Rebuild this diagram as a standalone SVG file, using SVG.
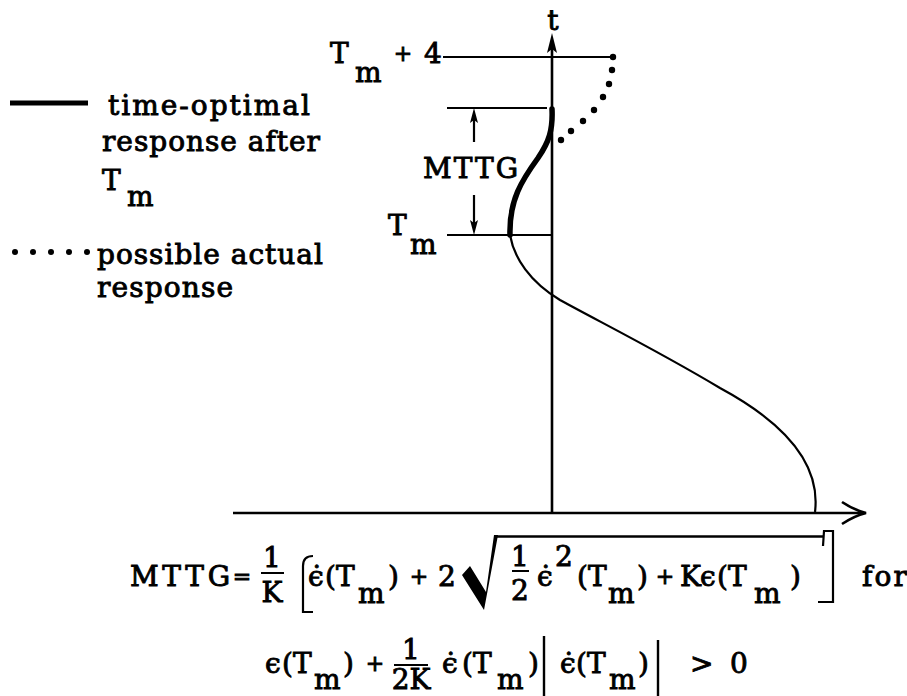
<svg xmlns="http://www.w3.org/2000/svg" width="907" height="696" viewBox="0 0 907 696">
<style>
text{font-family:"DejaVu Serif","Liberation Serif",serif;font-size:28px;fill:#000;stroke:#000;stroke-width:0.9}
.op{font-size:22px;text-anchor:middle}
.ln{stroke:#000;stroke-width:2.2;fill:none}
.ax{stroke:#000;stroke-width:2.6;fill:none}
.dot{fill:#000}
.mid{text-anchor:middle}
</style>
<rect width="907" height="696" fill="#fff"/>
<g id="legend">
<line x1="10" y1="103" x2="88" y2="103" stroke="#000" stroke-width="5"/>
<text x="108" y="115" textLength="202" lengthAdjust="spacing">time-optimal</text>
<text x="102" y="151" textLength="218" lengthAdjust="spacing">response after</text>
<text x="102" y="190">T</text><text x="127" y="206">m</text>
<circle class="dot" cx="15" cy="252" r="3"/><circle class="dot" cx="33" cy="252" r="3"/><circle class="dot" cx="51" cy="252" r="3"/><circle class="dot" cx="69" cy="252" r="3"/><circle class="dot" cx="87" cy="252" r="3"/>
<text x="97" y="264" textLength="226" lengthAdjust="spacing">possible actual</text>
<text x="97" y="297" textLength="136" lengthAdjust="spacing">response</text>
</g>
<g id="axes">
<line class="ax" x1="552" y1="48" x2="552" y2="513"/>
<polygon points="552,33 557,53 552,49 547,53" fill="#000"/>
<text class="mid" x="553" y="30">t</text>
<line class="ax" x1="233" y1="513" x2="863" y2="513"/>
<path class="ax" d="M842,502 Q854,510 866,513 Q854,516 842,524"/>
</g>
<g id="levels">
<line class="ln" x1="443" y1="57" x2="613" y2="57"/>
<line class="ln" x1="447" y1="108" x2="547" y2="108"/>
<line class="ln" x1="447" y1="235" x2="552" y2="235"/>
<text x="330" y="63">T</text><text x="355" y="82">m</text><text class="op" x="403" y="61">+</text><text x="424" y="63">4</text>
<text x="388" y="235">T</text><text x="410" y="254">m</text>
</g>
<g id="mttg-dimension">
<line class="ln" x1="474" y1="118" x2="474" y2="142"/>
<polygon points="474,108 478,123 474,120 470,123" fill="#000"/>
<line class="ln" x1="474" y1="195" x2="474" y2="225"/>
<polygon points="474,235 478,220 474,223 470,220" fill="#000"/>
<text x="423" y="178" textLength="95" lengthAdjust="spacing">MTTG</text>
</g>
<g id="curves">
<path d="M510,235 C514,258 530,282 560,300 C600,322 660,352 720,388 C770,415 822,455 815,512" fill="none" stroke="#000" stroke-width="2.2"/>
<path d="M552,109 C553,130 549,142 538,158 C522,180 509,200 510,235" fill="none" stroke="#000" stroke-width="5.5" stroke-linecap="round"/>
<g class="dot">
<circle cx="613" cy="57" r="3.2"/><circle cx="612" cy="70" r="3.2"/><circle cx="609" cy="84" r="3.2"/><circle cx="603" cy="97" r="3.2"/><circle cx="594" cy="110" r="3.2"/><circle cx="583" cy="121" r="3.2"/><circle cx="571" cy="131" r="3.2"/><circle cx="561" cy="140" r="3.2"/>
</g>
</g>
<g id="formula-line1">
<text x="130" y="586" textLength="100" lengthAdjust="spacing">MTTG</text>
<text class="op" x="242" y="584">=</text>
<text class="mid" x="272" y="567">1</text>
<line x1="261" y1="573" x2="284" y2="573" stroke="#000" stroke-width="2"/>
<text class="mid" x="272" y="602">K</text>
<path class="ln" d="M313,556 Q303,556 303,566 L303,612 L313,612"/>
<text x="308" y="586">ϵ̇</text>
<text x="325" y="586">(T</text>
<text x="358" y="603">m</text>
<text x="388" y="586">)</text>
<text class="op" x="419" y="584">+</text>
<text x="438" y="586">2</text>
<polygon points="462,575 470,566 486,592 494,535 498,535 484,610" fill="#000"/>
<line x1="496" y1="536.5" x2="823" y2="536.5" stroke="#000" stroke-width="2.5"/>
<text class="mid" x="520" y="566">1</text>
<line x1="512" y1="571" x2="529" y2="571" stroke="#000" stroke-width="2"/>
<text class="mid" x="520" y="600">2</text>
<text x="537" y="586">ϵ̇</text>
<text x="555" y="566">2</text>
<text x="577" y="586">(T</text>
<text x="608" y="603">m</text>
<text x="637" y="586">)</text>
<text class="op" x="665" y="584">+</text>
<text x="680" y="586">K</text>
<text x="700" y="586">ϵ</text>
<text x="717" y="586">(T</text>
<text x="754" y="603">m</text>
<text x="790" y="586">)</text>
<path class="ln" d="M823,546 L824,531 L833,531 L833,602 L818,602"/>
<text x="862" y="586" textLength="45" lengthAdjust="spacing">for</text>
</g>
<g id="formula-line2">
<text x="265" y="673">ϵ</text>
<text x="282" y="673">(T</text>
<text x="314" y="689">m</text>
<text x="343" y="673">)</text>
<text class="op" x="375" y="671">+</text>
<text class="mid" x="411" y="659">1</text>
<line x1="394" y1="665" x2="428" y2="665" stroke="#000" stroke-width="2"/>
<text class="mid" x="411" y="689">2K</text>
<text x="442" y="673">ϵ̇</text>
<text x="462" y="673">(T</text>
<text x="497" y="689">m</text>
<text x="528" y="673">)</text>
<line x1="544" y1="636" x2="544" y2="696" stroke="#000" stroke-width="2.4"/>
<text x="560" y="673">ϵ̇</text>
<text x="576" y="673">(T</text>
<text x="609" y="689">m</text>
<text x="638" y="673">)</text>
<line x1="658" y1="640" x2="658" y2="696" stroke="#000" stroke-width="2.4"/>
<text x="690" y="673">&gt;</text>
<text x="730" y="673">0</text>
</g>
</svg>
